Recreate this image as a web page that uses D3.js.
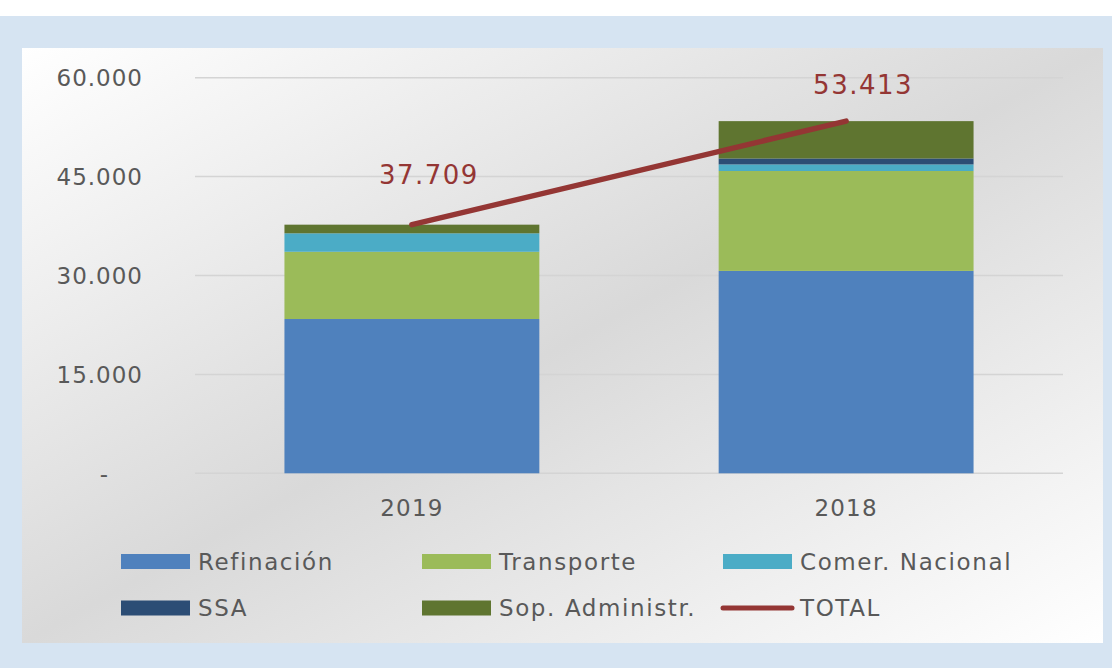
<!DOCTYPE html>
<html>
<head>
<meta charset="utf-8">
<script src="https://cdn.jsdelivr.net/npm/d3@7"></script>
<style>
  html, body { margin: 0; padding: 0; background: #fff; }
  svg { display: block; }
</style>
</head>
<body>
<script>
// Data
const years = ["2019", "2018"]
const seriesNames = ["Refinación", "Transporte", "Comer. Nacional", "SSA", "Sop. Administr."]
const refinacion = [23400, 30700]
const transporte = [10200, 15150]
const comerNacional = [2800, 1000]
const ssa = [0, 900]
const sopAdministr = [1309, 5663]
const totals = [37709, 53413]
const yTicks = [0, 15000, 30000, 45000, 60000]

const seriesColors = ["#4f81bd", "#9bbb59", "#4bacc6", "#2c4d75", "#5f7530"]
const totalColor = "#943634"
const textColor = "#595959"
const font = "DejaVu Sans, Verdana, sans-serif"

// Canvas
const W = 1112, H = 668
const svg = d3.select("body").append("svg").attr("width", W).attr("height", H)

// Frame and panel
svg.append("rect").attr("width", W).attr("height", H).attr("fill", "#fff")
svg.append("rect").attr("x", 0).attr("y", 16).attr("width", W).attr("height", H - 16).attr("fill", "#d6e4f2")

const grad = svg.append("defs").append("linearGradient")
  .attr("id", "bg").attr("x1", 0).attr("y1", 0).attr("x2", 1).attr("y2", 1)
grad.append("stop").attr("offset", "0%").attr("stop-color", "#ffffff")
grad.append("stop").attr("offset", "50%").attr("stop-color", "#d9d9d9")
grad.append("stop").attr("offset", "100%").attr("stop-color", "#ffffff")

svg.append("rect").attr("x", 22).attr("y", 48).attr("width", 1081).attr("height", 595).attr("fill", "url(#bg)")

// Scales
const plot = { left: 195, right: 1063, top: 77.7, bottom: 473.3 }
const x = d3.scaleBand().domain(years).range([plot.left, plot.right]).paddingInner(0.413).paddingOuter(0.206)
const y = d3.scaleLinear().domain([0, 60000]).range([plot.bottom, plot.top])

// Gridlines
svg.append("g")
  .selectAll("line")
  .data(yTicks)
  .join("line")
  .attr("x1", plot.left).attr("x2", plot.right)
  .attr("y1", d => y(d)).attr("y2", d => y(d))
  .attr("stroke", "#d4d4d4")
  .attr("stroke-width", 1.5)

// Y axis labels
svg.append("g")
  .attr("font-family", font)
  .attr("font-size", "23px")
  .attr("letter-spacing", "1px")
  .attr("fill", textColor)
  .selectAll("text")
  .data(yTicks)
  .join("text")
  .attr("x", d => d === 0 ? 109 : 143)
  .attr("y", d => y(d))
  .attr("dy", "0.36em")
  .attr("text-anchor", "end")
  .text(d => d === 0 ? "-" : d3.format(",")(d).replace(/,/g, "."))

// Stacked bars
const rows = years.map((yr, i) => ({
  year: yr,
  "Refinación": refinacion[i],
  "Transporte": transporte[i],
  "Comer. Nacional": comerNacional[i],
  "SSA": ssa[i],
  "Sop. Administr.": sopAdministr[i]
}))
const stacked = d3.stack().keys(seriesNames)(rows)

svg.append("g")
  .selectAll("g")
  .data(stacked)
  .join("g")
  .attr("fill", (_, i) => seriesColors[i])
  .selectAll("rect")
  .data(d => d)
  .join("rect")
  .attr("x", d => x(d.data.year))
  .attr("width", x.bandwidth())
  .attr("y", d => y(d[1]))
  .attr("height", d => y(d[0]) - y(d[1]))

// X axis labels
svg.append("g")
  .attr("font-family", font)
  .attr("font-size", "23px")
  .attr("letter-spacing", "1.2px")
  .attr("fill", textColor)
  .attr("text-anchor", "middle")
  .selectAll("text")
  .data(years)
  .join("text")
  .attr("x", d => x(d) + x.bandwidth() / 2)
  .attr("y", 516)
  .text(d => d)

// TOTAL line
const line = d3.line()
  .x((_, i) => x(years[i]) + x.bandwidth() / 2)
  .y(d => y(d))
svg.append("path")
  .datum(totals)
  .attr("d", line)
  .attr("fill", "none")
  .attr("stroke", totalColor)
  .attr("stroke-width", 5.5)
  .attr("stroke-linecap", "round")

// TOTAL labels
const labelDy = [-50, -36]
svg.append("g")
  .attr("font-family", font)
  .attr("font-size", "26px")
  .attr("fill", totalColor)
  .attr("text-anchor", "middle")
  .attr("letter-spacing", "1.5px")
  .selectAll("text")
  .data(totals)
  .join("text")
  .attr("x", (_, i) => x(years[i]) + x.bandwidth() / 2 + 17)
  .attr("y", (d, i) => y(d) + labelDy[i])
  .attr("dy", "0.36em")
  .text(d => d3.format(",")(d).replace(/,/g, "."))

// Legend
const legendItems = seriesNames.map((name, i) => ({ name, color: seriesColors[i], type: "rect" }))
  .concat([{ name: "TOTAL", color: totalColor, type: "line" }])

const legend = svg.append("g")
  .attr("font-family", font)
  .attr("font-size", "23px")
  .attr("fill", textColor)

legend.selectAll("g")
  .data(legendItems)
  .join("g")
  .attr("transform", (_, i) => `translate(${121 + (i % 3) * 301},${i < 3 ? 561.5 : 608})`)
  .each(function (d) {
    const g = d3.select(this)
    if (d.type === "rect") {
      g.append("rect").attr("x", 0).attr("y", -7.5).attr("width", 69).attr("height", 15).attr("fill", d.color)
    } else {
      g.append("line").attr("x1", 0).attr("x2", 69).attr("y1", 0).attr("y2", 0)
        .attr("stroke", d.color).attr("stroke-width", 5).attr("stroke-linecap", "round")
    }
    g.append("text")
      .attr("x", 77)
      .attr("y", 0)
      .attr("dy", "0.36em")
      .attr("letter-spacing", "1.6px")
      .text(d.name)
  })
</script>
</body>
</html>
